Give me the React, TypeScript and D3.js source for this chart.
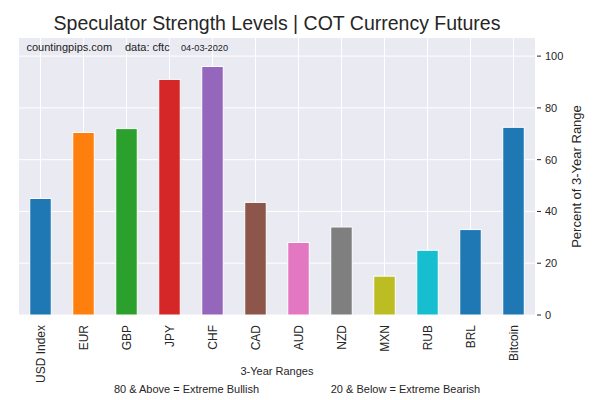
import React from "react";
import * as d3 from "d3";

const categories = ["USD Index", "EUR", "GBP", "JPY", "CHF", "CAD", "AUD", "NZD", "MXN", "RUB", "BRL", "Bitcoin"];
const values = [45, 70.5, 72, 91, 96, 43.5, 28, 34, 15, 25, 33, 72.5];
const colors = ["#1f77b4", "#ff7f0e", "#2ca02c", "#d62728", "#9467bd", "#8c564b", "#e377c2", "#7f7f7f", "#bcbd22", "#17becf", "#1f77b4", "#1f77b4"];
const yTicks = [0, 20, 40, 60, 80, 100];

export default function App() {
  const W = 600, H = 400;
  const L = 19, R = 535, T = 38, B = 315;
  const x = d3.scaleBand<string>().domain(categories).range([L, R]).paddingInner(0).paddingOuter(0);
  const y = d3.scaleLinear().domain([0, 107]).range([B, T]);
  const bw = x.bandwidth() * 0.5;
  const font = "'Liberation Sans', Arial, sans-serif";
  const cx = (L + R) / 2;
  return (
    <svg width={W} height={H} style={{ position: "absolute", left: 0, top: 0, fontFamily: font }}>
      <rect x={0} y={0} width={W} height={H} fill="#fff" />
      <rect x={L} y={T} width={R - L} height={B - T} fill="#EAEAF2" />
      {yTicks.map((t) => (
        <line key={"g" + t} x1={L} x2={R} y1={y(t)} y2={y(t)} stroke="#fff" strokeWidth={1} />
      ))}
      {categories.map((c) => (
        <line key={"v" + c} x1={x(c)! + x.bandwidth() / 2} x2={x(c)! + x.bandwidth() / 2} y1={T} y2={B} stroke="#fff" strokeWidth={1} />
      ))}
      {categories.map((c, i) => (
        <rect key={c} x={x(c)! + x.bandwidth() / 2 - bw / 2} y={y(values[i])} width={bw} height={B - y(values[i])} fill={colors[i]} stroke="#fff" strokeWidth={1} />
      ))}
      <text x={26.5} y={51} fontSize={11} fill="#222">countingpips.com</text>
      <text x={125} y={51} fontSize={11} fill="#222">data: cftc</text>
      <text x={181} y={51} fontSize={9.2} fill="#222">04-03-2020</text>
      <text x={cx} y={30} textAnchor="middle" fontSize={19.5} fill="#262626">Speculator Strength Levels | COT Currency Futures</text>
      {yTicks.map((t) => (
        <g key={"t" + t}>
          <line x1={R + 2} x2={R + 6} y1={y(t)} y2={y(t)} stroke="#262626" strokeWidth={1} />
          <text x={R + 10} y={y(t) + 4} fontSize={11} fill="#262626">{t}</text>
        </g>
      ))}
      <text transform={`translate(581,${(T + B) / 2}) rotate(-90)`} textAnchor="middle" fontSize={13} fill="#262626">Percent of 3-Year Range</text>
      {categories.map((c) => (
        <text key={"l" + c} transform={`translate(${x(c)! + x.bandwidth() / 2 + 4},${B + 10}) rotate(-90)`} textAnchor="end" fontSize={12} fill="#262626">{c}</text>
      ))}
      <text x={cx} y={375} textAnchor="middle" fontSize={11} fill="#262626">3-Year Ranges</text>
      <text x={186.5} y={393} textAnchor="middle" fontSize={11} fill="#262626">80 &amp; Above = Extreme Bullish</text>
      <text x={405.5} y={393} textAnchor="middle" fontSize={11} fill="#262626">20 &amp; Below = Extreme Bearish</text>
    </svg>
  );
}
